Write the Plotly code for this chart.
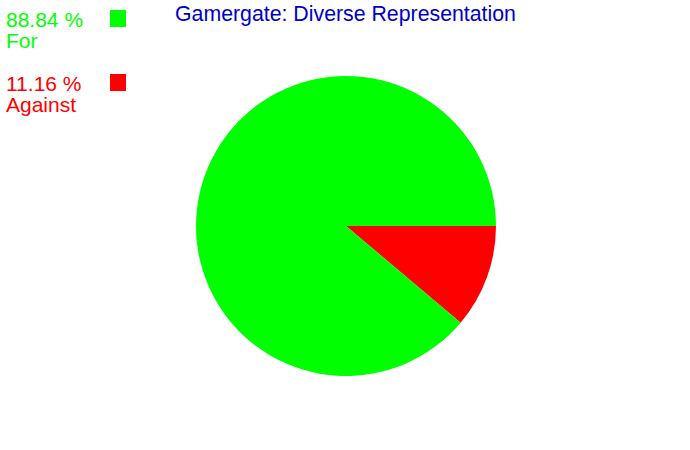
import plotly.graph_objects as go

W, H = 690, 450

labels = ["Against", "For"]
values = [11.16, 88.84]
colors = ["#FF0000", "#00FF00"]
pct_text = ["11.16 %", "88.84 %"]
title_text = "Gamergate: Diverse Representation"

def px_x(x):
    return x / W

def px_y(y):
    return 1 - y / H

cx, cy, r = 346, 226, 150

fig = go.Figure(go.Pie(
    labels=labels,
    values=values,
    marker=dict(colors=colors, line=dict(width=0)),
    sort=False,
    direction="clockwise",
    rotation=90,
    textinfo="none",
    hoverinfo="label+percent",
    showlegend=False,
    domain=dict(x=[px_x(cx - r), px_x(cx + r)], y=[px_y(cy + r), px_y(cy - r)]),
))

font_family = "Liberation Sans, Arial, sans-serif"
annotations = [
    dict(x=px_x(345), y=px_y(0), text=title_text, xanchor="center", yanchor="top",
         font=dict(family=font_family, size=21.3, color="#0000C8")),
]
shapes = []
legend_order = [1, 0]
for i, idx in enumerate(legend_order):
    top = 6 + i * 64
    annotations.append(dict(x=px_x(4), y=px_y(top), text=pct_text[idx], xanchor="left", yanchor="top",
                            font=dict(family=font_family, size=21, color=colors[idx])))
    annotations.append(dict(x=px_x(4), y=px_y(top + 21), text=labels[idx], xanchor="left", yanchor="top",
                            font=dict(family=font_family, size=21, color=colors[idx])))
    sq_top = 10 + i * 64
    shapes.append(dict(type="rect", xref="paper", yref="paper",
                       x0=px_x(110), x1=px_x(126), y0=px_y(sq_top + 17), y1=px_y(sq_top),
                       fillcolor=colors[idx], line=dict(width=0)))

for a in annotations:
    a.update(xref="paper", yref="paper", showarrow=False)

fig.update_layout(
    width=W, height=H,
    margin=dict(l=0, r=0, t=0, b=0),
    paper_bgcolor="white", plot_bgcolor="white",
    annotations=annotations,
    shapes=shapes,
)

fig.write_html("out.html", config={"displayModeBar": False},
               post_script="document.body.style.margin='0';")
